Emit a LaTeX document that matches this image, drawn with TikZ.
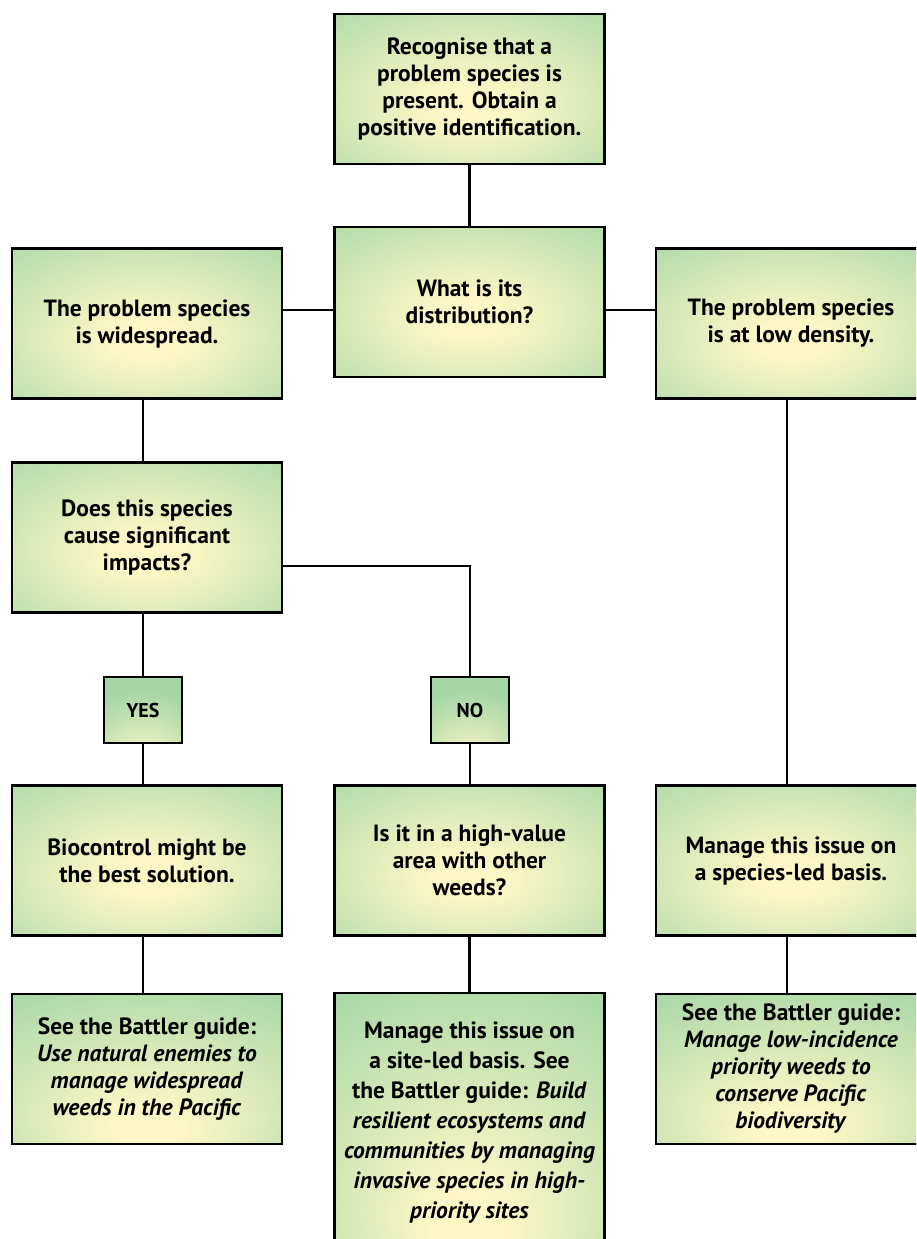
\documentclass[tikz,border=0pt]{standalone}
\usepackage{fontspec}
\setmainfont{PT Sans}
\definecolor{glowyellow}{RGB}{255,248,198}
\definecolor{leafgreen}{RGB}{166,214,166}
\pgfdeclareradialshading{boxglow}{\pgfpoint{0bp}{-6bp}}{color(0bp)=(glowyellow); color(6bp)=(glowyellow); color(44bp)=(leafgreen); color(80bp)=(leafgreen)}
\pgfdeclareradialshading{lowglow}{\pgfpoint{0bp}{-22bp}}{color(0bp)=(glowyellow); color(6bp)=(glowyellow); color(44bp)=(leafgreen); color(80bp)=(leafgreen)}
\pgfdeclareradialshading{tabglow}{\pgfpoint{0bp}{-50bp}}{color(0bp)=(glowyellow); color(6bp)=(glowyellow); color(40bp)=(leafgreen); color(80bp)=(leafgreen)}
\tikzset{
	flowbox/.style={draw, line width=2.6pt, shading=boxglow, minimum width=270pt, minimum height=150pt, align=center, font=\fontsize{23.5}{27}\selectfont\bfseries, inner sep=0pt},
	guidebox/.style={flowbox, shading=lowglow},
	answer/.style={draw, line width=2.6pt, shading=tabglow, minimum width=78pt, minimum height=66pt, font=\fontsize{20}{22}\selectfont\bfseries, inner sep=0pt},
	link/.style={line width=2.6pt}
}
\begin{document}
\begin{tikzpicture}[x=1pt, y=-1pt]
	\useasboundingbox (0, 0) rectangle (916, 1239);
	\clip (0, 0) rectangle (916, 1239);
	\node[flowbox] (spot) at (469.5, 89) {Recognise that a\\problem species is\\present. Obtain a\\positive identification.};
	\node[flowbox] (spread) at (469.5, 302) {What is its\\distribution?};
	\node[flowbox] (wide) at (147, 323.5) {The problem species\\is widespread.};
	\node[flowbox] (sparse) at (791, 323.5) {The problem species\\is at low density.};
	\node[flowbox] (impact) at (147, 537.5) {Does this species\\cause significant\\impacts?};
	\node[answer] (yes) at (143, 710) {YES};
	\node[answer] (no) at (470, 710) {NO};
	\node[flowbox] (biocontrol) at (147, 860.5) {Biocontrol might be\\the best solution.};
	\node[flowbox] (hotspot) at (469.5, 860.5) {Is it in a high-value\\area with other\\weeds?};
	\node[flowbox] (speciesled) at (791, 860.5) {Manage this issue on\\a species-led basis.};
	\node[guidebox] (enemies) at (147, 1069) {See the Battler guide:\\\textit{Use natural enemies to}\\\textit{manage widespread}\\\textit{weeds in the Pacific}};
	\node[guidebox, minimum height=260pt, font=\fontsize{23.5}{30}\selectfont\bfseries] (siteled) at (469.5, 1123) {Manage this issue on\\a site-led basis. See\\the Battler guide: \textit{Build}\\\textit{resilient ecosystems and}\\\textit{communities by managing}\\\textit{invasive species in high-}\\\textit{priority sites}};
	\node[guidebox] (lowinc) at (791, 1069) {See the Battler guide:\\\textit{Manage low-incidence}\\\textit{priority weeds to}\\\textit{conserve Pacific}\\\textit{biodiversity}};
	% connectors
	\draw[link] (spot) -- (spread);
	\draw[link] ([yshift=-8pt]spread.west) -- ([yshift=-8pt]spread.west -| wide.east);
	\draw[link] ([yshift=-8pt]spread.east) -- ([yshift=-8pt]spread.east -| sparse.west);
	\draw[link] ([xshift=-4pt]wide.south) -- ([xshift=-4pt]impact.north);
	\draw[link] ([yshift=-28.5pt]impact.east) -| (no.north);
	\draw[link] (yes.north) -- (yes.north |- impact.south);
	\draw[link] (yes.south) -- (yes.south |- biocontrol.north);
	\draw[link] (no.south) -- (no.south |- hotspot.north);
	\draw[link] ([xshift=-4pt]sparse.south) -- ([xshift=-4pt]speciesled.north);
	\draw[link] ([xshift=-4pt]biocontrol.south) -- ([xshift=-4pt]enemies.north);
	\draw[link] (hotspot) -- (siteled);
	\draw[link] ([xshift=-4pt]speciesled.south) -- ([xshift=-4pt]lowinc.north);
\end{tikzpicture}
\end{document}
